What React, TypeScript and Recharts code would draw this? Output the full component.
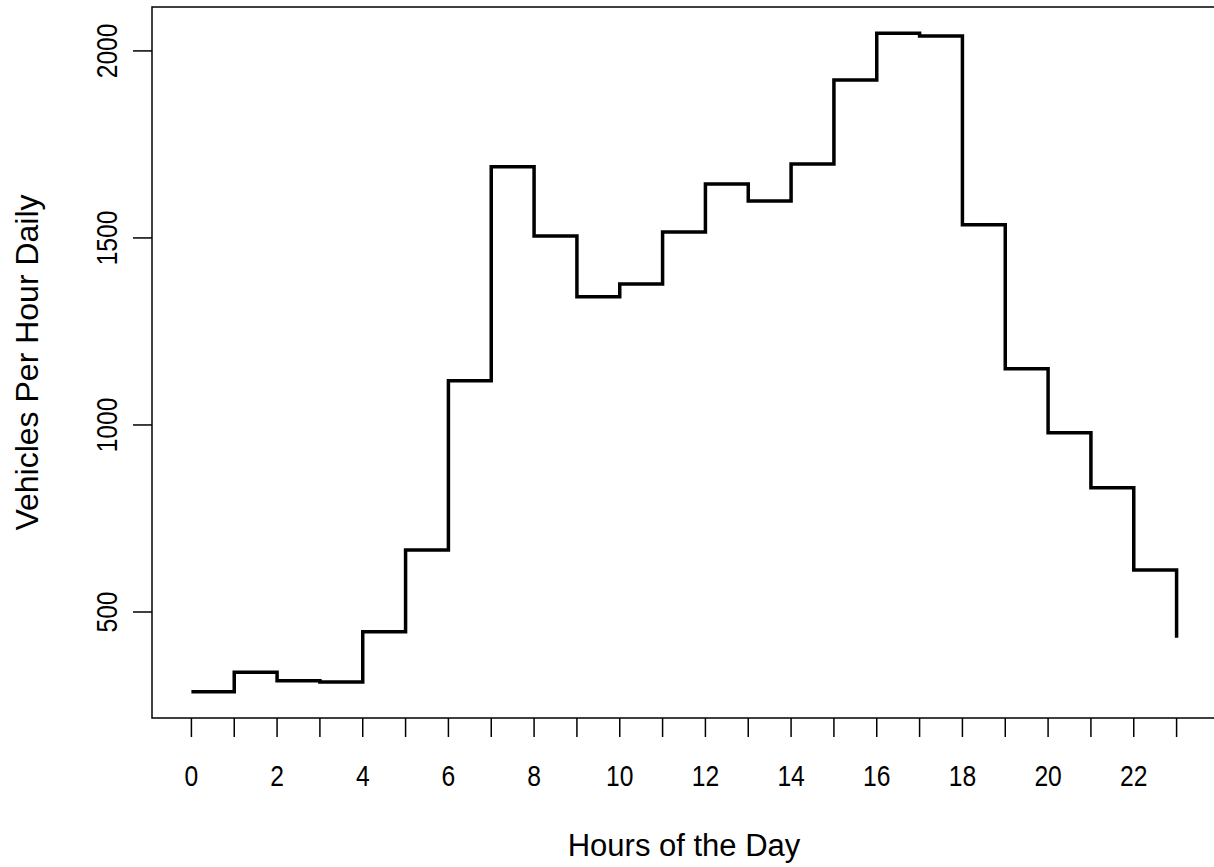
import { Label, Line, LineChart, ReferenceArea, XAxis, YAxis } from 'recharts';

// hourly traffic counts
const hours = [0, 1, 2, 3, 4, 5, 6, 7, 8, 9, 10, 11, 12, 13, 14, 15, 16, 17, 18, 19, 20, 21, 22, 23];
const vehicles = [
  287, 339, 316, 313, 447, 666, 1118, 1690, 1505, 1343, 1377, 1516,
  1644, 1599, 1698, 1922, 2047, 2040, 1535, 1150, 979, 832, 612, 431,
];
const yTicks = [500, 1000, 1500, 2000];

const xTitle = 'Hours of the Day';
const yTitle = 'Vehicles Per Hour Daily';

const data = hours.map((h, i) => ({ hour: h, vehicles: vehicles[i] }));

// R-style 4% padding around the data range
const xDomain = [-0.92, 23.92];
const yDomain = [216.6, 2117.4];

const font = "'Liberation Sans', Arial, sans-serif";
// tick labels in the original are a little narrower than the titles
const squeeze = 0.85;

function XTick(props: any) {
  const { x, y, payload } = props;
  if (payload.value % 2 !== 0) return <g />;
  return (
    <text
      x={0}
      y={0}
      transform={`translate(${x}, ${y + 47}) scale(${squeeze}, 1)`}
      textAnchor="middle"
      fontSize={29}
      fill="#000"
      fontFamily={font}
    >
      {payload.value}
    </text>
  );
}

function YTick(props: any) {
  const { x, y, payload } = props;
  const tx = x - 14;
  return (
    <text
      x={0}
      y={0}
      transform={`translate(${tx}, ${y}) rotate(-90) scale(${squeeze}, 1)`}
      textAnchor="middle"
      fontSize={29}
      fill="#000"
      fontFamily={font}
    >
      {payload.value}
    </text>
  );
}

function XTitle(props: any) {
  const vb = props.viewBox;
  return (
    <text x={vb.x + vb.width / 2} y={vb.y + 138} textAnchor="middle" fontSize={31} fill="#000" fontFamily={font}>
      {xTitle}
    </text>
  );
}

function YTitle(props: any) {
  const vb = props.viewBox;
  const tx = vb.x + 38;
  const ty = vb.y + vb.height / 2;
  return (
    <text
      x={tx}
      y={ty}
      textAnchor="middle"
      fontSize={32}
      fill="#000"
      fontFamily={font}
      transform={`rotate(-90, ${tx}, ${ty})`}
    >
      {yTitle}
    </text>
  );
}

export default function App() {
  return (
    <div
      style={{
        position: 'absolute',
        left: 0,
        top: 0,
        width: 1214,
        height: 867,
        overflow: 'hidden',
        background: '#fff',
      }}
    >
      <LineChart width={1218} height={867} data={data} margin={{ top: 7, right: 2, bottom: 0, left: 0 }}>
        <XAxis
          dataKey="hour"
          type="number"
          domain={xDomain}
          ticks={hours}
          interval={0}
          allowDataOverflow
          axisLine={false}
          tickSize={19}
          tickLine={{ stroke: '#000', strokeWidth: 1.5 }}
          tick={<XTick />}
          height={149}
        >
          <Label content={<XTitle />} />
        </XAxis>
        <YAxis
          type="number"
          domain={yDomain}
          ticks={yTicks}
          interval={0}
          allowDataOverflow
          axisLine={false}
          tickSize={19}
          tickLine={{ stroke: '#000', strokeWidth: 1.5 }}
          tick={<YTick />}
          width={152}
        >
          <Label content={<YTitle />} />
        </YAxis>
        <ReferenceArea
          x1={xDomain[0]}
          x2={xDomain[1]}
          y1={yDomain[0]}
          y2={yDomain[1]}
          fill="none"
          stroke="#000"
          strokeWidth={1.5}
          ifOverflow="visible"
        />
        <Line
          type="stepAfter"
          dataKey="vehicles"
          stroke="#000"
          strokeWidth={3.5}
          dot={false}
          activeDot={false}
          isAnimationActive={false}
        />
      </LineChart>
    </div>
  );
}
